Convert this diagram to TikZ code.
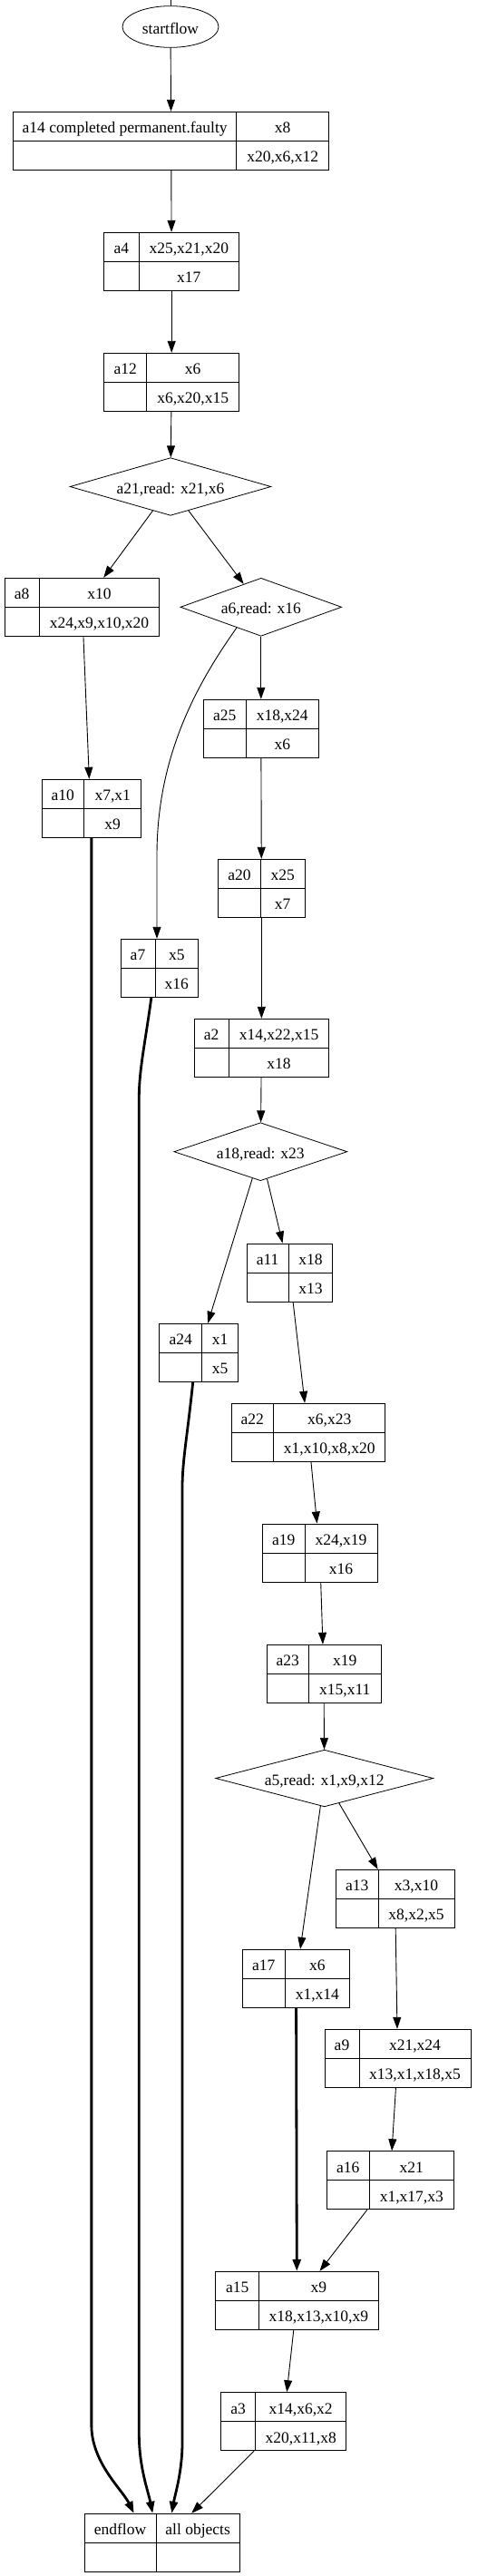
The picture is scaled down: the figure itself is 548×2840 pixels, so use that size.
\documentclass[tikz,border=0pt]{standalone}
\usepackage{fontspec}
\setmainfont{Liberation Serif}
\usetikzlibrary{arrows.meta,shapes.geometric,calc}

\tikzset{
  recbox/.style={draw,line width=1pt,minimum height=64pt,inner sep=0pt},
  recline/.style={line width=1pt},
  rectext/.style={inner sep=0pt,text height=15pt,text depth=0pt},
  decision/.style={diamond,draw,line width=0.8pt,inner sep=0pt,aspect=3.5,text height=15pt,text depth=0pt},
  flow/.style={line width=0.9pt,-{Triangle[length=13pt,width=9pt]}},
  flowthick/.style={line width=2.8pt,-{Triangle[length=13pt,width=9pt]}}
}

% name, left x, divider x, right x, top y, label, upper text, lower text
\newcommand{\recordbox}[8]{%
  \node[recbox,minimum width={(#4-#2)*1pt}] (#1) at ({(#2+#4)/2},{#5+32}) {};
  \draw[recline] (#2,{#5+32}) -- (#4,{#5+32});
  \draw[recline] (#3,#5) -- (#3,{#5+64});
  \node[rectext] (#1-l) at ({(#2+#3)/2},{#5+16}) {#6};
  \node[rectext] (#1-t) at ({(#3+#4)/2},{#5+16}) {#7};
  \node[rectext] (#1-b) at ({(#3+#4)/2},{#5+48}) {#8};
}

\begin{document}
\begin{tikzpicture}[x=1pt,y=-1pt,font=\fontsize{17.5}{20}\selectfont]
\path[fill=white,use as bounding box] (0,0) rectangle (548,2840);

\node[ellipse,draw,line width=0.8pt,inner sep=0pt,minimum width=106pt,minimum height=45.7pt,text height=15pt,text depth=0pt] (start) at (188,29.5) {startflow};
\coordinate (topcut) at (188,0);

\recordbox{a14}{14.7}{260.7}{362.7}{123.3}{a14 completed permanent.faulty}{x8}{x20,x6,x12}
\recordbox{a4}{114.7}{153}{263.7}{256.3}{a4}{x25,x21,x20}{x17}
\recordbox{a12}{114.7}{161.7}{263.7}{389.3}{a12}{x6}{x6,x20,x15}
\node[decision,minimum width=221.7pt,minimum height=63.7pt] (a21) at (188,536.5) {a21,read: x21,x6};
\recordbox{a8}{5}{43.3}{175.7}{637.3}{a8}{x10}{x24,x9,x10,x20}
\node[decision,minimum width=177.7pt,minimum height=64pt] (a6) at (287.8,669.3) {a6,read: x16};
\recordbox{a25}{224.3}{271.3}{351.3}{771.3}{a25}{x18,x24}{x6}
\recordbox{a10}{46}{92.7}{155.7}{859.3}{a10}{x7,x1}{x9}
\recordbox{a20}{240.7}{287.3}{336}{947.3}{a20}{x25}{x7}
\recordbox{a7}{133}{171}{218.7}{1035.3}{a7}{x5}{x16}
\recordbox{a2}{214}{252.3}{362.7}{1123.3}{a2}{x14,x22,x15}{x18}
\node[decision,minimum width=191pt,minimum height=64pt] (a18) at (287.3,1269.7) {a18,read: x23};
\recordbox{a11}{272}{318.3}{366.7}{1371}{a11}{x18}{x13}
\recordbox{a24}{175.7}{222.7}{262.7}{1459.3}{a24}{x1}{x5}
\recordbox{a22}{255}{301.7}{424.7}{1547.3}{a22}{x6,x23}{x1,x10,x8,x20}
\recordbox{a19}{289.3}{336}{416}{1680}{a19}{x24,x19}{x16}
\recordbox{a23}{294}{340.7}{420}{1813.3}{a23}{x19}{x15,x11}
\node[decision,minimum width=240pt,minimum height=62.7pt] (a5) at (357.7,1960.5) {a5,read: x1,x9,x12};
\recordbox{a13}{370.3}{417}{501}{2061.3}{a13}{x3,x10}{x8,x2,x5}
\recordbox{a17}{267.3}{314}{385.7}{2149.3}{a17}{x6}{x1,x14}
\recordbox{a9}{358}{396}{519}{2237.3}{a9}{x21,x24}{x13,x1,x18,x5}
\recordbox{a16}{360}{407.7}{500}{2371.7}{a16}{x21}{x1,x17,x3}
\recordbox{a15}{237.7}{285.7}{417}{2504.3}{a15}{x9}{x18,x13,x10,x9}
\recordbox{a3}{243.7}{281.7}{381.7}{2637.7}{a3}{x14,x6,x2}{x20,x11,x8}
\recordbox{endf}{93}{172}{264.3}{2771.3}{endflow}{all objects}{}

% edges
\draw[line width=0.9pt] (topcut) -- (start.north);
\draw[flow] (start) -- (a14);
\draw[flow] (a14) -- (a4);
\draw[flow] (a4) -- (a12);
\draw[flow] (a12) -- (a21);
\draw[flow] (a21) -- (a8);
\draw[flow] (a21) -- (a6);
\draw[flow] ([xshift=1.6pt]a8.south) -- ([xshift=-2.5pt]a10.north);
\draw[flow] ($(a6.west)!0.7!(a6.south)$) .. controls (220,750) and (173,830) .. (173,943) -- ([xshift=-2.85pt]a7.north);
\draw[flow] (a6) -- (a25);
\draw[flow] (a25) -- (a20);
\draw[flow] (a20) -- (a2);
\draw[flow] (a2) -- (a18);
\draw[flow] (a18) -- (a24);
\draw[flow] (a18) -- (a11);
\draw[flow] (a11) -- (a22);
\draw[flow] (a22) -- (a19);
\draw[flow] (a19) -- (a23);
\draw[flow] (a23) -- (a5);
\draw[flow] (a5) -- (a17);
\draw[flow] (a5) -- (a13);
\draw[flow] (a13) -- (a9);
\draw[flow] (a9) -- (a16);
\draw[flow] (a16) -- (a15);
\draw[flowthick] (a17) -- (a15);
\draw[flow] (a15) -- (a3);
\draw[flow] (a3) -- (endf);

% heavy edges into endflow
\draw[flowthick] (a10.south) -- ++(0,1750) .. controls (100.85,2715) and (135,2745) .. ([xshift=-31pt]endf.north);
\draw[flowthick] ([xshift=-9pt]a7.south) .. controls (160,1150) and (153.3,1180) .. (153.3,1210) -- (153.3,2683) .. controls (153.3,2720) and (163,2745) .. ([xshift=-10.35pt]endf.north);
\draw[flowthick] ([xshift=-6.5pt]a24.south) .. controls (207,1580) and (201,1610) .. (201,1640) -- (201,2693) .. controls (201,2725) and (193,2750) .. ([xshift=10.65pt]endf.north);
\end{tikzpicture}
\end{document}
